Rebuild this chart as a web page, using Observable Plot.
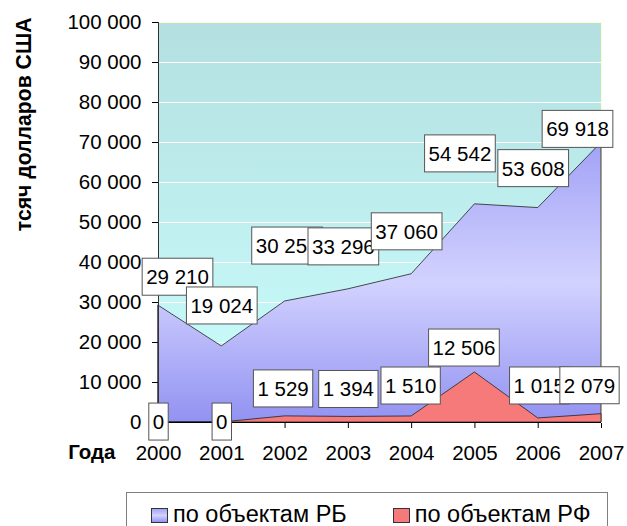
<!DOCTYPE html>
<html><head><meta charset="utf-8">
<script src="https://cdn.jsdelivr.net/npm/d3@7"></script>
<script src="https://cdn.jsdelivr.net/npm/@observablehq/plot@0.6"></script>
<style>
body{margin:0;background:#fff;font-family:Arial,"Liberation Sans",sans-serif;}
#wrap{position:relative;width:627px;height:526px;overflow:hidden;}
#legend{position:absolute;left:126px;top:492px;width:482px;height:46px;border:1px solid #7f7f7f;box-sizing:border-box;display:flex;align-items:center;padding-left:24px;font-size:23.5px;line-height:1;color:#000;}
#legend .item{display:flex;align-items:center;white-space:nowrap;}
#legend .item + .item{margin-left:46px;}
#legend .sw{display:inline-block;width:15px;height:13px;border:1px solid #333;margin-right:5px;}
</style></head><body><div id="wrap"></div><script>
const years = [2000, 2001, 2002, 2003, 2004, 2005, 2006, 2007];
const rbValues = [29210, 19024, 30253, 33296, 37060, 54542, 53608, 69918];
const rfValues = [0, 0, 1529, 1394, 1510, 12506, 1015, 2079];
const seriesNames = ["по объектам РБ", "по объектам РФ"];
const yTicks = [0, 10000, 20000, 30000, 40000, 50000, 60000, 70000, 80000, 90000, 100000];
const xAxisTitle = "Года";
const yAxisTitle = "тсяч долларов США";

// label nudges (pixels), as placed in the original
const rbLabelOffsets = [[19,-28],[0,-40],[2,-55],[-5,-42],[-5,-42],[-15,-50],[-5,-39],[-24,-13]];
const rfLabelOffsets = [[0,0],[0,0],[-2,-27],[0,-27],[-1,-30],[-11,-24],[1,-32],[-12,-28]];

const fmt = v => d3.format(",")(v).replace(/,/g, "\u00a0");
const data = years.map((year, i) => ({year, rb: rbValues[i], rf: rfValues[i]}));
const FONT = "Arial, 'Liberation Sans', sans-serif";

const labelMarks = [];
data.forEach((d, i) => labelMarks.push(Plot.text([d], {x: "year", y: "rb", text: r => fmt(r.rb), dx: rbLabelOffsets[i][0], dy: rbLabelOffsets[i][1], fontSize: 20.5, fill: "#000", lineAnchor: "middle", textAnchor: "middle"})));
data.forEach((d, i) => labelMarks.push(Plot.text([d], {x: "year", y: "rf", text: r => fmt(r.rf), dx: rfLabelOffsets[i][0], dy: rfLabelOffsets[i][1], fontSize: 20.5, fill: "#000", lineAnchor: "middle", textAnchor: "middle"})));

const chart = Plot.plot({
  width: 627, height: 480,
  marginLeft: 158, marginRight: 26, marginTop: 22, marginBottom: 58,
  style: {fontFamily: FONT, fontSize: "20.5px", color: "#000", background: "transparent", overflow: "visible"},
  x: {domain: [2000, 2007], ticks: years, tickFormat: d => String(d), tickSize: 6, tickPadding: 17, label: null},
  y: {domain: [0, 100000], ticks: yTicks, tickFormat: fmt, tickSize: 6, tickPadding: 11, label: null},
  marks: [
    Plot.frame({fill: "url(#bgGrad)", stroke: "#ffffc8"}),
    Plot.gridY(yTicks.filter(t => t > 0 && t < 100000), {stroke: "#ffffff", strokeOpacity: 1, strokeWidth: 1}),
    Plot.areaY(data, {x: "year", y: "rb", fill: "url(#rbGrad)", stroke: "#222", strokeWidth: 0.8}),
    Plot.areaY(data, {x: "year", y: "rf", fill: "#f77a7a", stroke: "#222", strokeWidth: 0.8}),
    Plot.ruleX([2000], {stroke: "#333"}),
    Plot.ruleY([0], {stroke: "#000"}),
    ...labelMarks,
    Plot.text([xAxisTitle], {frameAnchor: "bottom-left", text: d => d, dx: -43, dy: 30, textAnchor: "end", lineAnchor: "middle", fontWeight: "bold", fontSize: 20.5, fill: "#000"}),
    Plot.text([yAxisTitle], {frameAnchor: "top-left", text: d => d, dx: -134, dy: -5, rotate: -90, textAnchor: "end", lineAnchor: "middle", fontWeight: "bold", fontSize: 21.2, fill: "#000"})
  ]
});

const wrap = document.getElementById("wrap");
wrap.append(chart);

const svg = d3.select(chart.tagName.toLowerCase() === "svg" ? chart : chart.querySelector("svg"));
const defs = svg.insert("defs", ":first-child");
const bg = defs.append("linearGradient").attr("id", "bgGrad").attr("x1", 0).attr("y1", 0).attr("x2", 0).attr("y2", 1);
bg.append("stop").attr("offset", "0%").attr("stop-color", "#b3dfe0");
bg.append("stop").attr("offset", "100%").attr("stop-color", "#ccffff");
const rg = defs.append("linearGradient").attr("id", "rbGrad").attr("x1", 0).attr("y1", 0).attr("x2", 0).attr("y2", 1);
rg.append("stop").attr("offset", "0%").attr("stop-color", "#a2a2f6");
rg.append("stop").attr("offset", "50%").attr("stop-color", "#d2d2ff");
rg.append("stop").attr("offset", "100%").attr("stop-color", "#9292f2");

// boxes behind the data labels
const groups = svg.selectAll('g[aria-label="text"]').nodes().slice(0, labelMarks.length);
groups.forEach(g => {
  g.querySelectorAll("text").forEach(t => {
    const b = t.getBBox();
    const cy = b.y + b.height / 2;
    const r = document.createElementNS("http://www.w3.org/2000/svg", "rect");
    r.setAttribute("x", b.x - 4);
    r.setAttribute("y", cy - 18.5);
    r.setAttribute("width", b.width + 8);
    r.setAttribute("height", 37);
    r.setAttribute("fill", "#fff");
    r.setAttribute("stroke", "#555");
    r.setAttribute("stroke-width", 1);
    if (t.getAttribute("transform")) r.setAttribute("transform", t.getAttribute("transform"));
    t.parentNode.insertBefore(r, t);
  });
});

// legend
const legend = document.createElement("div");
legend.id = "legend";
const swatches = ["linear-gradient(#a2a2f6, #d2d2ff 50%, #9292f2)", "#f77a7a"];
seriesNames.forEach((name, i) => {
  const item = document.createElement("span");
  item.className = "item";
  const sw = document.createElement("span");
  sw.className = "sw";
  sw.style.background = swatches[i];
  item.append(sw, document.createTextNode(name));
  legend.append(item);
});
wrap.append(legend);
</script></body></html>
